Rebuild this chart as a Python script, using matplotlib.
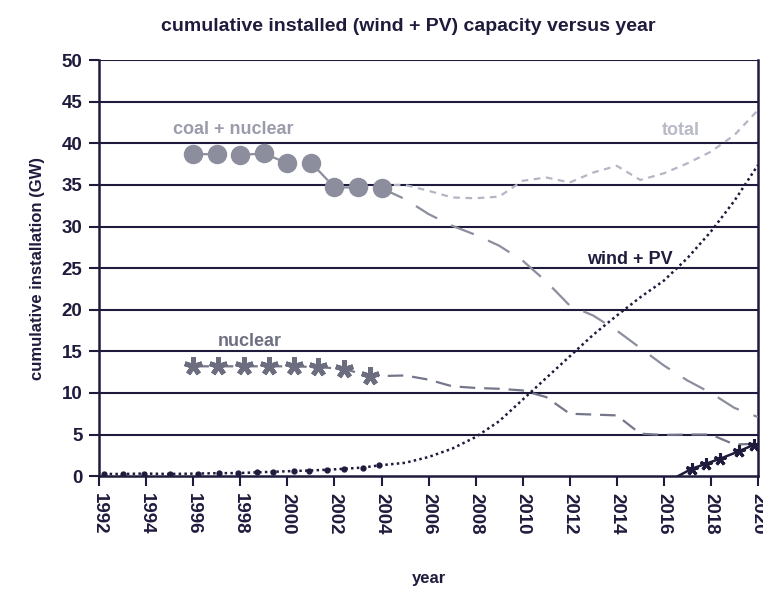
import matplotlib
matplotlib.use('Agg')
import matplotlib.pyplot as plt

# values (GW)
coal_years = [1996, 1997, 1998, 1999, 2000, 2001, 2002, 2003, 2004, 2005, 2006, 2007, 2008,
              2009, 2010, 2011, 2012, 2013, 2014, 2015, 2016, 2017, 2018, 2019, 2020]
coal_vals = [38.7, 38.7, 38.6, 38.8, 37.6, 37.7, 34.7, 34.7, 34.6, 33.3, 31.5, 30.1, 29.0,
             27.7, 25.9, 23.4, 20.5, 19.3, 17.5, 15.4, 13.3, 11.5, 10.0, 8.2, 7.1]
n_coal_marks = 9

total_years = [2004, 2005, 2006, 2007, 2008, 2009, 2010, 2011, 2012, 2013, 2014, 2015, 2016,
               2017, 2018, 2019, 2020]
total_vals = [35.0, 35.0, 34.3, 33.5, 33.4, 33.6, 35.5, 35.9, 35.3, 36.5, 37.3, 35.6, 36.4,
              37.6, 39.0, 41.0, 44.0]

nuc_years = [1996, 1997.07, 1998.14, 1999.2, 2000.27, 2001.3, 2002.4, 2003.5, 2005, 2006,
             2007, 2008, 2009, 2010, 2011, 2012, 2013, 2014, 2015, 2016, 2017, 2018, 2019, 2020]
nuc_vals = [13.2, 13.2, 13.2, 13.2, 13.2, 13.1, 12.9, 12.0, 12.1, 11.6,
            10.8, 10.6, 10.5, 10.3, 9.5, 7.5, 7.4, 7.3, 5.1, 4.95, 5.0, 5.0, 3.8, 3.9]
n_nuc_marks = 8

wpv_years = [1992.2, 1993.0, 1993.9, 1995.0, 1996.2, 1997.1, 1997.9, 1998.7, 1999.4, 2000.3,
             2000.9, 2001.7, 2002.4, 2003.2, 2003.9, 2005, 2006, 2007, 2008, 2009, 2010,
             2011, 2012, 2013, 2014, 2015, 2016, 2017, 2018, 2019, 2020]
wpv_vals = [0.26, 0.26, 0.31, 0.26, 0.31, 0.36, 0.36, 0.46, 0.52, 0.62,
            0.67, 0.77, 0.88, 1.03, 1.29, 1.6, 2.3, 3.3, 4.7, 6.6, 9.2,
            11.8, 14.4, 17.0, 19.3, 21.5, 23.5, 26.2, 29.4, 33.1, 37.4]
n_wpv_marks = 15

new_years = [2016.6, 2017.2, 2017.8, 2018.4, 2019.2, 2019.85]
new_vals = [0.0, 0.9, 1.5, 2.1, 3.0, 3.8]

year_ticks = list(range(1992, 2021, 2))
gw_ticks = list(range(0, 51, 5))

navy = '#1e1b3c'
plt.rcParams['font.family'] = ['Liberation Sans', 'DejaVu Sans']
plt.rcParams['font.weight'] = 'bold'

fig = plt.figure(figsize=(7.63, 5.90), dpi=100)
ax = fig.add_axes([0.130, 0.193, 0.8634, 0.705])

for g in gw_ticks[1:]:
    ax.axhline(g, color=navy, lw=1.5, zorder=1)

ax.plot(total_years, total_vals, color='#b4b6c4', lw=1.6, dashes=(3, 2.5), zorder=2)
ax.plot(coal_years, coal_vals, color='#8c8e9e', lw=1.6, dashes=(11, 7), zorder=3)
ax.plot(coal_years[:n_coal_marks], coal_vals[:n_coal_marks], ls='none', marker='o',
        ms=13, color='#8c8e9e', zorder=4)
ax.plot(nuc_years, nuc_vals, color='#74768a', lw=1.6, dashes=(7, 4), zorder=3)
ax.plot(nuc_years[:n_nuc_marks], nuc_vals[:n_nuc_marks], ls='none', marker=(5, 2, 0),
        ms=13, mew=3.5, color='#6c6e80', zorder=4)
ax.plot(wpv_years, wpv_vals, color=navy, lw=1.8, ls=(0, (1, 1.3)), zorder=5)
ax.plot(wpv_years[:n_wpv_marks], wpv_vals[:n_wpv_marks], ls='none', marker='o', ms=3.5,
        color=navy, zorder=5)
ax.plot(new_years, new_vals, color=navy, lw=1.8, marker=(5, 2, 0), ms=9, mew=2.2,
        markevery=list(range(1, len(new_years))), zorder=6)

ax.text(1997.7, 41.7, 'coal + nuclear', color='#9a9cab', fontsize=13, ha='center', va='center')
ax.text(1998.4, 16.2, 'nuclear', color='#6e7082', fontsize=13, ha='center', va='center')
ax.text(2016.7, 41.5, 'total', color='#b8bac6', fontsize=13, ha='center', va='center')
ax.text(2014.55, 26.0, 'wind + PV', color=navy, fontsize=13, ha='center', va='center')

ax.set_xlim(1992, 2020)
ax.set_ylim(0, 50)
ax.set_xticks(year_ticks)
ax.set_xticklabels([str(y) for y in year_ticks], rotation=-90, fontsize=13.5, color=navy)
ax.set_yticks(gw_ticks)
ax.set_yticklabels([str(v) for v in gw_ticks], fontsize=13.5, color=navy)
ax.tick_params(direction='out', length=7, width=1.5, color=navy, pad=5)
for side in ['left', 'right', 'bottom']:
    ax.spines[side].set_color(navy)
    ax.spines[side].set_linewidth(1.8)
ax.spines['top'].set_visible(False)

ax.set_xlabel('year', fontsize=12, color=navy, fontweight='bold', labelpad=26)
ax.set_ylabel('cumulative installation (GW)', fontsize=12, color=navy, fontweight='bold',
              labelpad=12)
fig.suptitle('cumulative installed (wind + PV) capacity versus year', x=0.535, y=0.97,
             fontsize=14, color=navy, fontweight='bold')

fig.savefig('out.png', dpi=100)
